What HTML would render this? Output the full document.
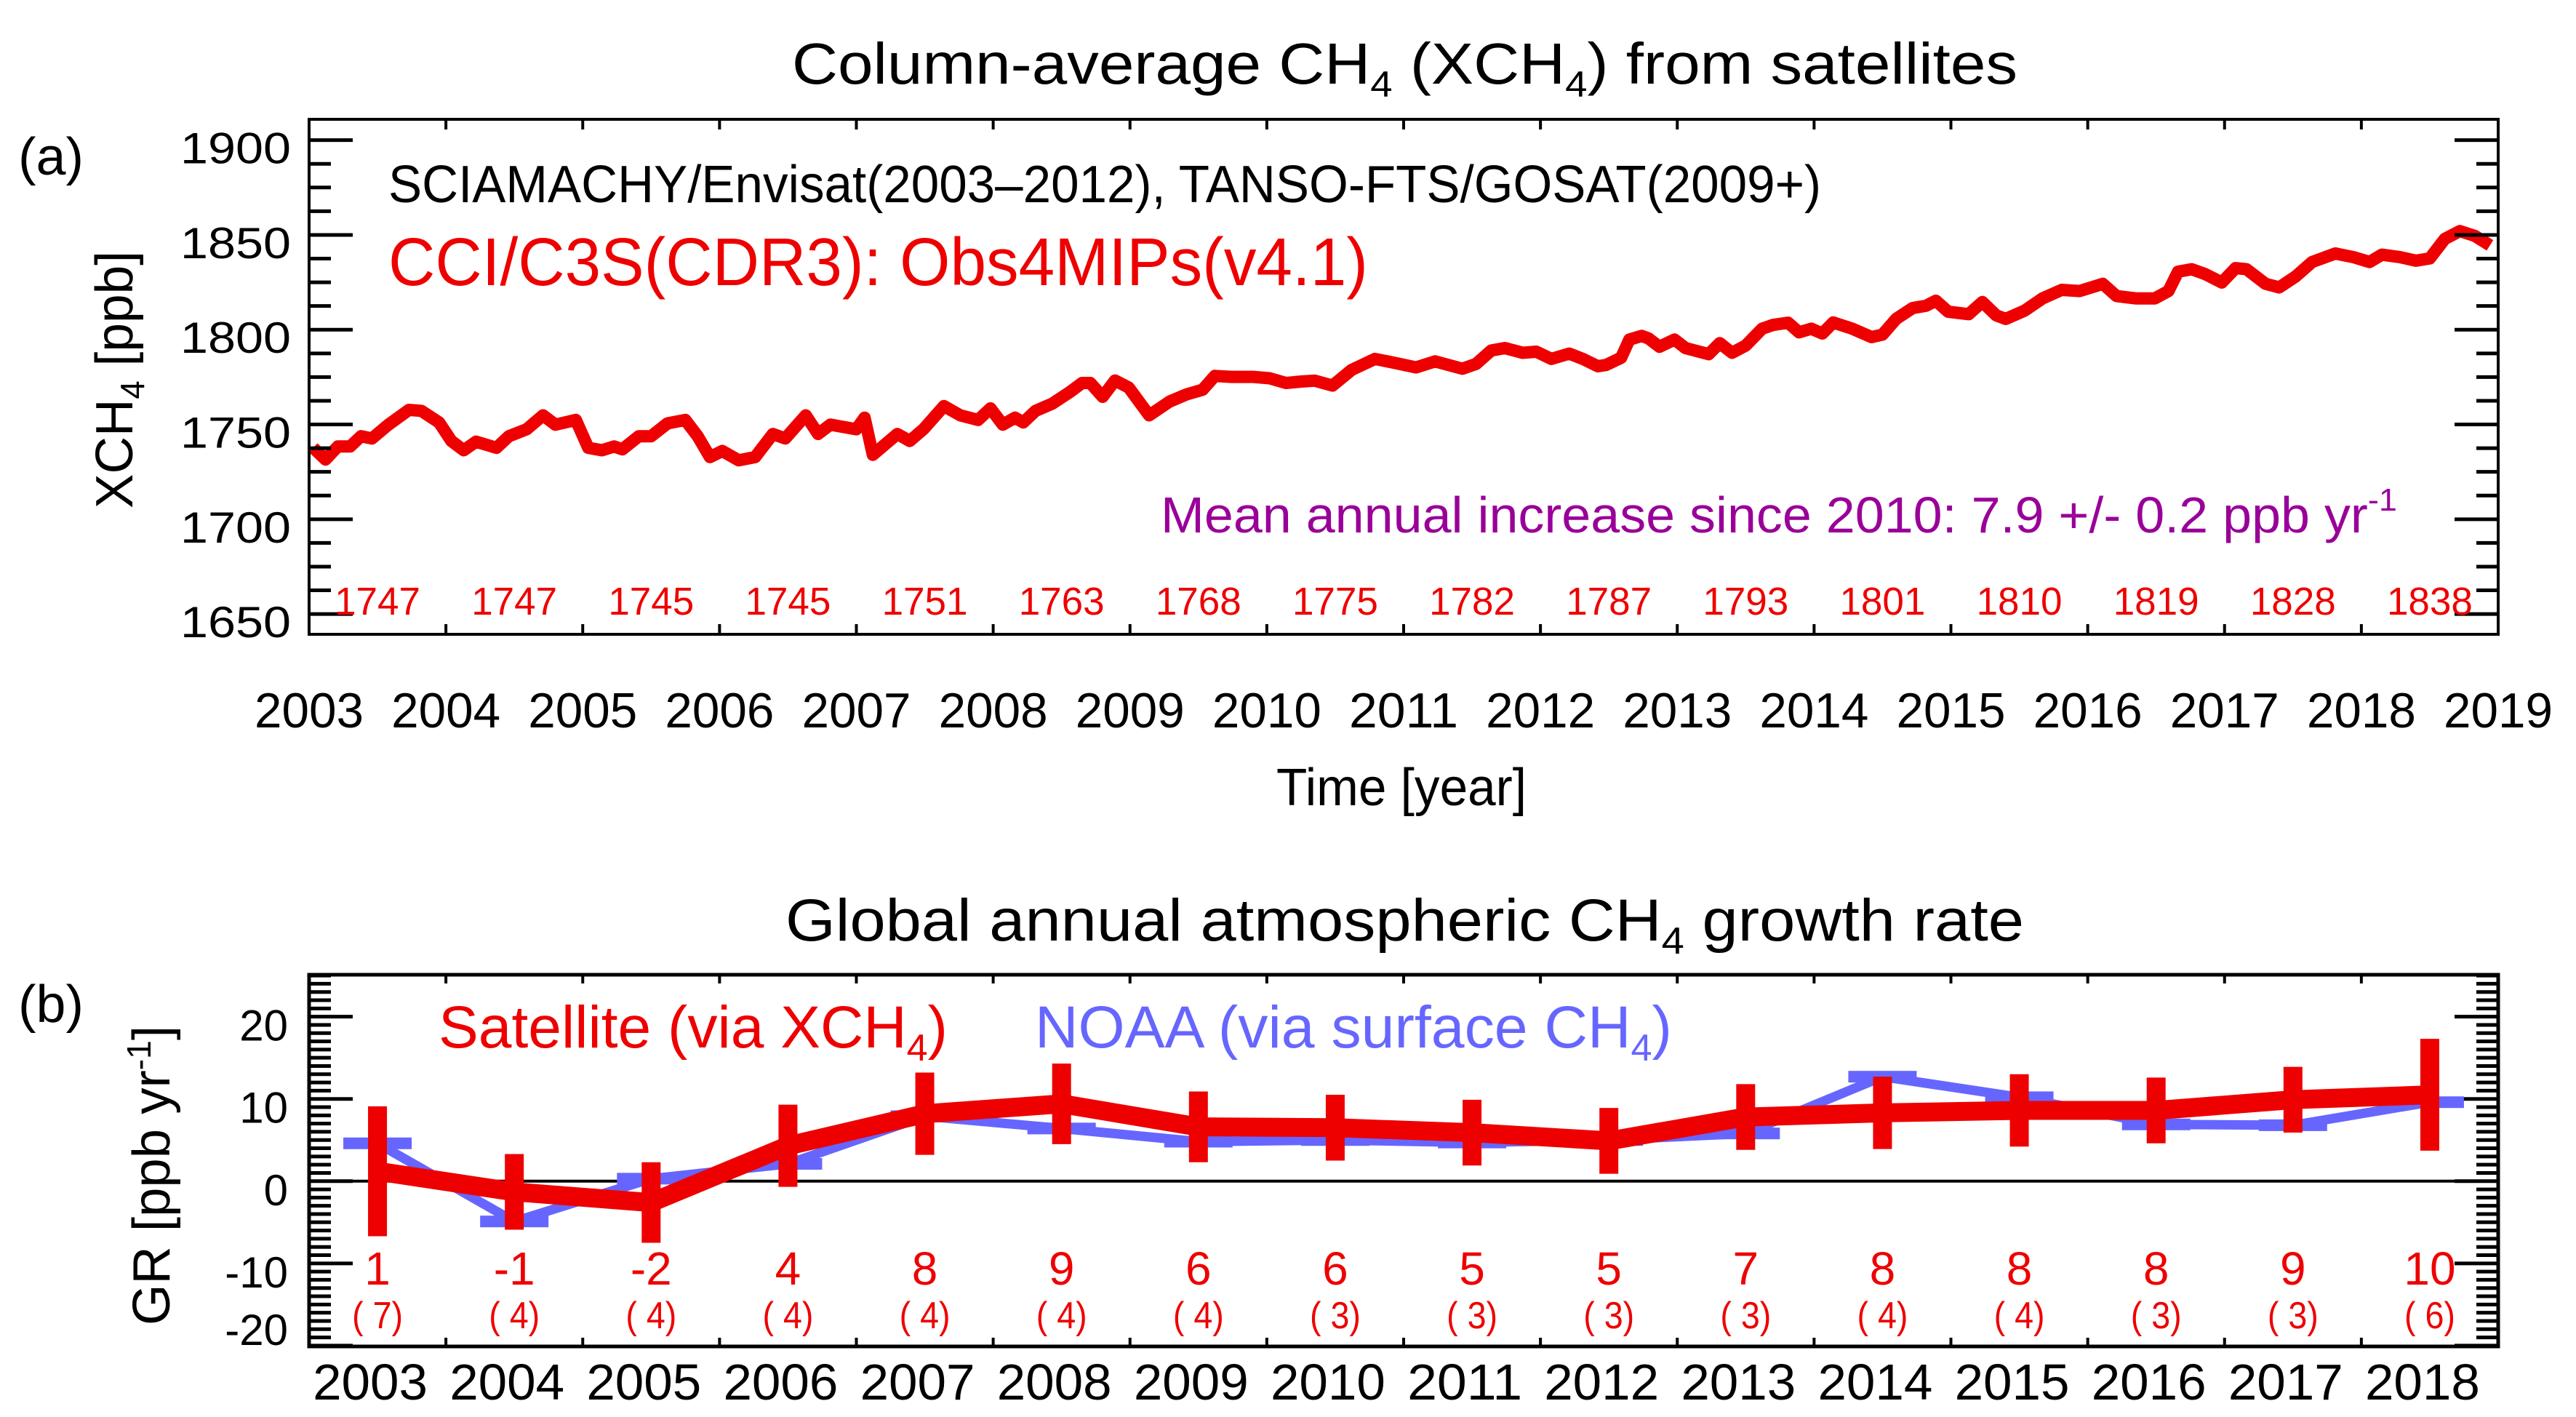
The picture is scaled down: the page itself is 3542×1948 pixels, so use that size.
<!DOCTYPE html>
<html><head><meta charset="utf-8"><style>
html,body{margin:0;padding:0;background:#fff;}
svg{display:block;font-family:"Liberation Sans",Arial,sans-serif;}
</style></head><body>
<svg id="fig" xmlns="http://www.w3.org/2000/svg" width="3542" height="1948" viewBox="0 0 3542 1948">
<rect x="0" y="0" width="3542" height="1948" fill="#fff"/>
<!-- Panel (a) texts -->
<text x="1089" y="115" font-size="80" textLength="1685" lengthAdjust="spacingAndGlyphs">Column-average CH<tspan font-size="50" dy="18">4</tspan><tspan dy="-18"> (XCH</tspan><tspan font-size="50" dy="18">4</tspan><tspan dy="-18">) from satellites</tspan></text>
<text x="25" y="240" font-size="72" textLength="90" lengthAdjust="spacingAndGlyphs">(a)</text>
<text x="534" y="278" font-size="72" textLength="1970" lengthAdjust="spacingAndGlyphs">SCIAMACHY/Envisat(2003–2012), TANSO-FTS/GOSAT(2009+)</text>
<text x="534" y="392" font-size="93" fill="#ee0000" textLength="1347" lengthAdjust="spacingAndGlyphs">CCI/C3S(CDR3): Obs4MIPs(v4.1)</text>
<text x="1596" y="732" font-size="70" fill="#990099" textLength="1700" lengthAdjust="spacingAndGlyphs">Mean annual increase since 2010:  7.9 +/- 0.2 ppb yr<tspan font-size="44" dy="-30">-1</tspan></text>
<text transform="translate(182,522) rotate(-90)" text-anchor="middle" font-size="72" textLength="354" lengthAdjust="spacingAndGlyphs">XCH<tspan font-size="46" dy="16">4</tspan><tspan dy="-16"> [ppb]</tspan></text>
<text x="1755" y="1107" font-size="72" textLength="344" lengthAdjust="spacingAndGlyphs">Time [year]</text>
<!-- Panel (b) texts -->
<text x="1080" y="1293" font-size="82" textLength="1703" lengthAdjust="spacingAndGlyphs">Global annual atmospheric CH<tspan font-size="52" dy="18">4</tspan><tspan dy="-18"> growth rate</tspan></text>
<text x="25" y="1405" font-size="72" textLength="90" lengthAdjust="spacingAndGlyphs">(b)</text>
<text x="603" y="1440" font-size="82" fill="#ee0000" textLength="700" lengthAdjust="spacingAndGlyphs">Satellite (via XCH<tspan font-size="52" dy="18">4</tspan><tspan dy="-18">)</tspan></text>
<text x="1423" y="1440" font-size="82" fill="#6666ff" textLength="876" lengthAdjust="spacingAndGlyphs">NOAA (via surface CH<tspan font-size="52" dy="18">4</tspan><tspan dy="-18">)</tspan></text>
<text transform="translate(233,1616) rotate(-90)" text-anchor="middle" font-size="72" textLength="412" lengthAdjust="spacingAndGlyphs">GR [ppb yr<tspan font-size="46" dy="-26">-1</tspan><tspan dy="26">]</tspan></text>
<g id="gA"></g>
<g id="gB"></g>
</svg>
<script>
// ---- Panel (a) data ----
const xchYears = [2003.03,2003.12,2003.21,2003.30,2003.38,2003.46,2003.58,2003.73,2003.82,2003.95,2004.04,2004.13,2004.22,2004.37,2004.46,2004.59,2004.71,2004.80,2004.95,2005.04,2005.14,2005.23,2005.29,2005.41,2005.50,2005.62,2005.75,2005.84,2005.93,2006.02,2006.14,2006.26,2006.39,2006.48,2006.63,2006.72,2006.81,2007.00,2007.06,2007.12,2007.30,2007.39,2007.49,2007.64,2007.76,2007.89,2007.98,2008.07,2008.16,2008.22,2008.31,2008.43,2008.56,2008.65,2008.71,2008.80,2008.89,2008.99,2009.14,2009.29,2009.41,2009.53,2009.62,2009.74,2009.90,2010.02,2010.14,2010.26,
2010.35,2010.48,2010.62,2010.79,2010.92,2011.09,2011.23,2011.43,2011.53,2011.64,2011.74,2011.87,2011.97,2012.08,2012.21,2012.31,2012.42,2012.48,2012.59,2012.65,2012.74,2012.79,2012.87,2012.98,2013.06,2013.23,2013.31,2013.40,2013.50,2013.62,2013.70,2013.81,2013.89,2013.98,
2014.06,2014.14,2014.28,2014.42,2014.50,2014.60,2014.72,2014.82,2014.89,2014.98,2015.13,2015.23,2015.33,2015.40,2015.54,2015.67,2015.81,2015.94,2016.11,2016.21,2016.35,2016.49,2016.59,2016.66,2016.76,2016.86,2016.98,2017.08,2017.16,2017.30,2017.40,2017.52,2017.64,2017.81,2017.94,2018.06,2018.15,2018.28,2018.40,2018.50,2018.61,2018.72,2018.83,2018.94];
const xchValues = [1737.7,1731.5,1738.4,1738.4,1743.8,1742.6,1749.9,1757.7,1757.2,1751.1,1741.3,1736.4,1740.9,1737.7,1743.8,1747.5,1754.8,1749.9,1752.4,1737.7,1736.4,1738.4,1736.9,1743.8,1743.8,1750.6,1752.4,1743.8,1732.8,1736.0,1731.1,1732.8,1745.0,1742.6,1754.8,1745.0,1749.9,1747.5,1753.6,1734.0,1745.0,1741.3,1747.5,1759.7,1754.8,1752.4,1758.5,1749.9,1753.6,1751.1,1757.2,1760.9,1767.1,1771.9,1771.9,1764.6,1773.2,1769.5,1754.8,1762.1,1765.8,1768.3,1775.6,1775.1,1775.1,1774.4,1771.9,1772.7,
1773.1,1770.5,1778.8,1784.6,1782.7,1780.1,1783.3,1779.4,1782.0,1789.0,1790.3,1787.8,1788.4,1784.6,1787.4,1784.6,1780.7,1781.4,1785.2,1794.8,1796.7,1795.4,1791.0,1794.8,1790.3,1787.1,1792.9,1787.8,1791.6,1800.5,1802.5,1803.7,1798.6,1800.5,
1798.0,1803.8,1800.5,1796.1,1797.4,1805.7,1811.4,1812.7,1815.3,1809.5,1808.2,1814.6,1807.6,1805.7,1810.1,1816.5,1821.0,1820.4,1824.2,1817.8,1816.5,1816.5,1820.4,1830.6,1831.9,1829.3,1824.9,1832.5,1831.9,1824.2,1822.3,1828.1,1835.7,1840.2,1838.3,1835.7,1839.6,1838.3,1836.4,1837.6,1847.9,1852.0,1849.5,1844.5];
const annualMeanLabels = ["1747","1747","1745","1745","1751","1763","1768","1775","1782","1787","1793","1801","1810","1819","1828","1838"];
const yTicksA = [1650,1700,1750,1800,1850,1900];
const xTicksA = [2003,2004,2005,2006,2007,2008,2009,2010,2011,2012,2013,2014,2015,2016,2017,2018,2019];
// ---- Panel (b) data ----
const grYears = [2003,2004,2005,2006,2007,2008,2009,2010,2011,2012,2013,2014,2015,2016,2017,2018];
const satGrowth = [1.2,-1.3,-2.6,4.3,8.2,9.4,6.6,6.5,5.9,4.9,7.8,8.3,8.6,8.6,9.9,10.5];
const satError = [7.9,4.6,4.9,5.0,5.0,4.9,4.3,4.0,4.0,4.0,4.0,4.4,4.4,4.0,4.0,6.8];
const noaaGrowth = [4.6,-4.9,0.3,2.1,7.9,6.4,4.8,5.0,4.7,5.0,5.8,12.7,10.2,6.9,6.8,9.6];
const satLabels = ["1","-1","-2","4","8","9","6","6","5","5","7","8","8","8","9","10"];
const countLabels = ["( 7)","( 4)","( 4)","( 4)","( 4)","( 4)","( 4)","( 3)","( 3)","( 3)","( 3)","( 4)","( 4)","( 3)","( 3)","( 6)"];
const yTicksB = [-20,-10,0,10,20];

const NS = "http://www.w3.org/2000/svg";
function mk(tag, attrs, parent){ const e=document.createElementNS(NS,tag); for(const k in attrs) e.setAttribute(k,attrs[k]); parent.appendChild(e); return e; }
const L=425, R=3435;
const xs = yr => L + (yr-2003)*(R-L)/16;
// panel A axes
const TA=164, BA=872, yminA=1639.3, ymaxA=1911;
const ysA = v => BA - (v-yminA)*(BA-TA)/(ymaxA-yminA);
const gA=document.getElementById('gA');
// line
let d=""; xchYears.forEach((y,i)=>{ d += (i?"L":"M")+xs(y).toFixed(1)+","+ysA(xchValues[i]).toFixed(1); });
const line=mk('path',{d:d,fill:'none',stroke:'#ee0000','stroke-width':17,'stroke-linejoin':'round'},gA);


// frame
const fA=mk('rect',{x:L,y:TA,width:R-L,height:BA-TA,fill:'none',stroke:'#000','stroke-width':4},gA);


// y ticks
for(let v=1650; v<=1900; v+=12.5){
  const major = yTicksA.includes(v); const len = major?60:30; const y=ysA(v);
  mk('line',{x1:L,x2:L+len,y1:y,y2:y,stroke:'#000','stroke-width':5},gA);
  mk('line',{x1:R,x2:R-len,y1:y,y2:y,stroke:'#000','stroke-width':5},gA);
}
yTicksA.forEach(v=>{
  const t=mk('text',{x:400,y:ysA(v)+32,'text-anchor':'end','font-size':60,textLength:152,lengthAdjust:'spacingAndGlyphs'},gA);
  t.textContent=v;
  
  
});
xTicksA.forEach(yr=>{
  const x=xs(yr);
  if(yr>2003 && yr<2019){ mk('line',{x1:x,x2:x,y1:BA,y2:BA-14,stroke:'#000','stroke-width':4},gA); mk('line',{x1:x,x2:x,y1:TA,y2:TA+14,stroke:'#000','stroke-width':4},gA); }
  const t=mk('text',{x:x,y:1000,'text-anchor':'middle','font-size':68,textLength:150,lengthAdjust:'spacingAndGlyphs'},gA);
  t.textContent=yr;
  
  
});
annualMeanLabels.forEach((s,i)=>{
  const t=mk('text',{x:xs(2003.5+i),y:845,'text-anchor':'middle','font-size':54,fill:'#ee0000',textLength:118,lengthAdjust:'spacingAndGlyphs'},gA);
  t.textContent=s;
  
  
});
// panel B
const TB=1340, BB=1851, yminB=-20.1, ymaxB=25.1;
const ysB = v => BB - (v-yminB)*(BB-TB)/(ymaxB-yminB);
const gB=document.getElementById('gB');
const zl=mk('line',{x1:L,x2:R,y1:ysB(0),y2:ysB(0),stroke:'#000','stroke-width':4},gB);


for(let v=-20; v<=25; v+=1){
  const major = yTicksB.includes(v); const len = major?60:30; const y=ysB(v);
  mk('line',{x1:L,x2:L+len,y1:y,y2:y,stroke:'#000','stroke-width':5},gB);
  mk('line',{x1:R,x2:R-len,y1:y,y2:y,stroke:'#000','stroke-width':5},gB);
}
yTicksB.forEach(v=>{
  const yy = v===-20 ? ysB(v)-1 : ysB(v)+33;
  const t=mk('text',{x:396,y:yy,'text-anchor':'end','font-size':60},gB);
  t.textContent=v;
  
  
});
// NOAA
let dn=""; grYears.forEach((y,i)=>{ dn += (i?"L":"M")+xs(y+0.5).toFixed(1)+","+ysB(noaaGrowth[i]).toFixed(1); });
const nl=mk('path',{d:dn,fill:'none',stroke:'#6666ff','stroke-width':13,'stroke-linejoin':'round'},gB);


grYears.forEach((y,i)=>{
  const c=mk('rect',{x:xs(y+0.5)-47,y:ysB(noaaGrowth[i])-8,width:94,height:16,fill:'#6666ff'},gB);
  
  
});
// Satellite
let ds=""; grYears.forEach((y,i)=>{ ds += (i?"L":"M")+xs(y+0.5).toFixed(1)+","+ysB(satGrowth[i]).toFixed(1); });
const sl=mk('path',{d:ds,fill:'none',stroke:'#ee0000','stroke-width':26,'stroke-linejoin':'miter'},gB);


grYears.forEach((y,i)=>{
  const x=xs(y+0.5);
  const e=mk('line',{x1:x,x2:x,y1:ysB(satGrowth[i]+satError[i]),y2:ysB(satGrowth[i]-satError[i]),stroke:'#ee0000','stroke-width':26},gB);
  
  
  const t=mk('text',{x:x,y:1766,'text-anchor':'middle','font-size':64,fill:'#ee0000'},gB);
  t.textContent=satLabels[i];
  
  
  const c=mk('text',{x:x,y:1826,'text-anchor':'middle','font-size':52,fill:'#ee0000',textLength:70,lengthAdjust:'spacingAndGlyphs'},gB);
  c.textContent=countLabels[i];
  
  
  const xl=mk('text',{x:x-10,y:1924,'text-anchor':'middle','font-size':70,textLength:158,lengthAdjust:'spacingAndGlyphs'},gB);
  xl.textContent=y;
  
  
});
for(let yr=2004; yr<=2018; yr++){ const x=xs(yr); mk('line',{x1:x,x2:x,y1:BB,y2:BB-12,stroke:'#000','stroke-width':4},gB); mk('line',{x1:x,x2:x,y1:TB,y2:TB+12,stroke:'#000','stroke-width':4},gB); }
const fB=mk('rect',{x:L,y:TB,width:R-L,height:BB-TB,fill:'none',stroke:'#000','stroke-width':5},gB);


</script>
</body></html>
